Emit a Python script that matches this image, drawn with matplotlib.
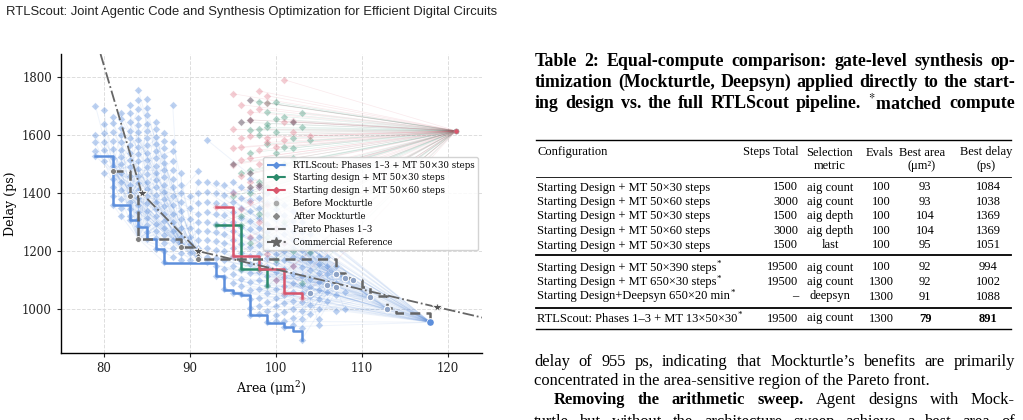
import matplotlib
matplotlib.use("Agg")
import matplotlib.pyplot as plt
from matplotlib.lines import Line2D
from matplotlib.collections import LineCollection

W, H = 1023, 420

# ---------------- chart data ----------------
# after-Mockturtle designs of the RTLScout run: area -> delays
blue_cols = {
    79: [1702, 1600, 1575, 1545, 1529],
    80: [1688, 1640, 1606, 1578, 1550, 1510, 1470],
    81: [1664, 1641, 1610, 1580, 1552, 1522, 1495, 1450, 1420, 1390, 1361],
    82: [1678, 1655, 1625, 1600, 1575, 1550, 1525, 1500, 1470, 1440, 1410, 1380, 1350, 1320],
    83: [1704, 1675, 1645, 1615, 1590, 1565, 1540, 1515, 1490, 1460, 1430, 1400, 1370, 1345, 1320, 1308],
    84: [1756, 1722, 1690, 1660, 1635, 1610, 1585, 1560, 1535, 1510, 1485, 1460, 1435, 1410, 1385, 1360,
         1335, 1310, 1287],
    85: [1724, 1695, 1668, 1640, 1615, 1590, 1565, 1540, 1515, 1490, 1465, 1440, 1415, 1390, 1365, 1340,
         1315, 1290, 1265, 1242],
    86: [1647, 1620, 1595, 1570, 1545, 1520, 1495, 1470, 1445, 1420, 1395, 1370, 1345, 1320, 1295, 1270,
         1245, 1208],
    87: [1607, 1580, 1555, 1530, 1505, 1480, 1455, 1430, 1405, 1380, 1355, 1330, 1305, 1280, 1255, 1230,
         1200, 1162],
    88: [1704, 1578, 1545, 1512, 1480, 1450, 1420, 1390, 1360, 1330, 1300, 1270, 1240, 1210, 1180],
    89: [1470, 1430, 1400, 1370, 1340, 1310, 1280, 1250, 1225, 1195, 1170],
    90: [1390, 1350, 1310, 1280, 1250, 1225, 1195, 1170],
    91: [1475, 1440, 1400, 1365, 1330, 1300, 1270, 1240, 1210, 1180],
    92: [1584, 1440, 1405, 1370, 1335, 1300, 1270, 1240, 1210, 1180, 1162],
    93: [1434, 1400, 1365, 1330, 1295, 1265, 1235, 1205, 1175, 1150, 1116],
    94: [1430, 1395, 1360, 1325, 1290, 1260, 1230, 1200, 1170, 1140, 1110, 1068],
    95: [1440, 1405, 1370, 1335, 1300, 1270, 1240, 1210, 1180, 1150, 1120, 1090, 1056],
    96: [1420, 1385, 1350, 1315, 1285, 1255, 1225, 1195, 1165, 1135, 1105, 1080, 1052],
    97: [1450, 1410, 1375, 1340, 1305, 1275, 1245, 1215, 1185, 1155, 1125, 1095, 1065, 1035, 1005, 981],
    98: [1420, 1385, 1350, 1315, 1280, 1250, 1220, 1190, 1160, 1130, 1100, 1070, 1040, 1010, 985],
    99: [1400, 1365, 1330, 1295, 1265, 1235, 1205, 1175, 1145, 1115, 1085, 1055, 1025, 995, 955],
    100: [1380, 1345, 1310, 1280, 1250, 1220, 1190, 1160, 1130, 1100, 1070, 1040, 1010, 980, 958],
    101: [1360, 1325, 1290, 1260, 1230, 1200, 1170, 1140, 1110, 1080, 1050, 1020, 990, 960, 939],
    102: [1340, 1305, 1270, 1240, 1210, 1180, 1150, 1120, 1090, 1060, 1030, 1000, 970, 945],
    103: [1300, 1265, 1235, 1205, 1175, 1145, 1115, 1085, 1055, 1025, 995, 965, 935, 895],
    104: [1260, 1225, 1195, 1165, 1135, 1105, 1075, 1045, 1015, 985],
    105: [1220, 1185, 1155, 1125, 1095, 1065, 1035, 1000, 965, 947],
    106: [1180, 1150, 1120, 1090, 1060, 1030],
    107: [1150, 1120, 1090, 1050, 995],
    108: [1060, 1000],
}

# before-Mockturtle designs (Phases 1-3 candidates)
before_left_x = [81, 83, 84, 89, 91]
before_left_y = [1475, 1389, 1243, 1214, 1174]
before_right_x = [118, 113, 111, 118, 109, 107, 108, 104, 106, 107, 118]
before_right_y = [955, 1000, 1043, 955, 1100, 1120, 1107, 1056, 1084, 1078, 955]

# starting design and its Mockturtle results
start_x, start_y = 121, 1615
green_x = [98, 99, 100, 99, 100, 101, 103, 97, 98, 99, 100, 102, 103, 104, 99, 101, 102, 97, 98, 96,
           97, 99, 95, 100, 98, 96, 101, 99, 97, 102, 100, 98, 99, 103, 96, 93, 96, 104, 98, 100,
           102, 97, 101, 99]
green_y = [1716, 1712, 1713, 1679, 1656, 1664, 1677, 1618, 1622, 1627, 1610, 1590, 1628, 1582, 1570, 1559,
           1556, 1480, 1440, 1470, 1400, 1420, 1390, 1360, 1330, 1320, 1300, 1250, 1230, 1200, 1170, 1140,
           1080, 1090, 1290, 1291, 1138, 1196, 1600, 1540, 1520, 1540, 1500, 1640]
pink_x = [95, 98, 99, 101, 96, 97, 99, 101, 102, 96, 97, 99, 101, 104, 95, 98, 99, 96, 97, 95, 98, 96,
          97, 98, 95, 97, 99, 96, 98, 100, 97, 101, 95, 98, 101, 103, 93, 100, 102, 99, 95, 96, 98,
          100, 102, 97]
pink_y = [1743, 1753, 1736, 1791, 1705, 1653, 1710, 1647, 1650, 1590, 1598, 1592, 1585, 1598, 1555, 1549,
          1575, 1515, 1520, 1498, 1500, 1460, 1440, 1420, 1400, 1370, 1360, 1345, 1300, 1280, 1250, 1230,
          1184, 1138, 1055, 1038, 1352, 1100, 1150, 1190, 1620, 1560, 1690, 1560, 1610, 1680]
gray_after_x = [97, 96, 97, 102, 95, 97, 98, 97]
gray_after_y = [1720, 1645, 1653, 1647, 1502, 1470, 1430, 1420]

# Pareto fronts
rtl_step_x = [79, 81, 83, 84, 85, 86, 87, 93, 94, 95, 96, 97, 99, 101, 102, 103]
rtl_step_y = [1529, 1361, 1308, 1285, 1241, 1207, 1161, 1115, 1067, 1055, 1050, 980, 954, 938, 926, 894]
mt30_step_x = [93, 96, 99]
mt30_step_y = [1291, 1138, 1080]
mt60_step_x = [93, 95, 98, 101, 103]
mt60_step_y = [1352, 1184, 1138, 1055, 1038]
p13_x = [81, 83, 84, 89, 91, 107, 108, 109, 110, 111, 113, 114, 118]
p13_y = [1475, 1389, 1243, 1214, 1174, 1124, 1109, 1101, 1078, 1044, 1003, 986, 969]

# commercial reference
comm_x = [79.6, 84.4, 91, 118.8, 124.5]
comm_y = [1880, 1400, 1200, 1007, 968]
star_x = [84.4, 91, 118.8]
star_y = [1400, 1200, 1007]

# ---------------- table data ----------------
configs = ["Starting Design + MT 50×30 steps", "Starting Design + MT 50×60 steps",
           "Starting Design + MT 50×30 steps", "Starting Design + MT 50×60 steps",
           "Starting Design + MT 50×30 steps", "Starting Design + MT 50×390 steps",
           "Starting Design + MT 650×30 steps", "Starting Design+Deepsyn 650×20 min",
           "RTLScout: Phases 1–3 + MT 13×50×30"]
matched = [False, False, False, False, False, True, True, True, True]
steps = ["1500", "3000", "1500", "3000", "1500", "19500", "19500", "–", "19500"]
metrics = ["aig count", "aig count", "aig depth", "aig depth", "last", "aig count", "aig count",
           "deepsyn", "aig count"]
evals = ["100", "100", "100", "100", "100", "100", "1300", "1300", "1300"]
areas = ["93", "93", "104", "104", "95", "92", "92", "91", "79"]
delays = ["1084", "1038", "1369", "1369", "1051", "994", "1002", "1088", "891"]

BLUE = "#5d8fdc"
GREEN = "#2b8a6b"
RED = "#d9566c"
GRAY = "#666666"

plt.rcParams["font.family"] = "DejaVu Serif"
plt.rcParams["mathtext.fontset"] = "dejavuserif"

fig = plt.figure(figsize=(W / 100, H / 100), dpi=100)
ax = fig.add_axes([61 / W, 1 - 353 / H, 421 / W, 299 / H])

blue_x, blue_y = [], []
for a, ds in blue_cols.items():
    for d in ds:
        blue_x.append(a)
        blue_y.append(d)

# faint lines from each before design to its Mockturtle results
segs = []
li = ri = 0
for x, y in zip(blue_x, blue_y):
    if x < 92:
        k = li % len(before_left_x)
        segs.append([(before_left_x[k], before_left_y[k]), (x, y)])
        li += 1
    else:
        k = ri % len(before_right_x)
        segs.append([(before_right_x[k], before_right_y[k]), (x, y)])
        ri += 1
ax.add_collection(LineCollection(segs, colors=BLUE, alpha=0.1, lw=0.7, zorder=1))

for xs, ys, c in [(green_x, green_y, GREEN), (pink_x, pink_y, RED), (gray_after_x, gray_after_y, GRAY)]:
    ax.add_collection(LineCollection([[(start_x, start_y), (x, y)] for x, y in zip(xs, ys)],
                                     colors=c, alpha=0.13, lw=0.5, zorder=1))

ax.scatter(blue_x, blue_y, marker="D", s=15, color=BLUE, alpha=0.42, edgecolors="white",
           linewidths=0.4, zorder=2)
ax.scatter(green_x, green_y, marker="D", s=15, color=GREEN, alpha=0.35, edgecolors="white",
           linewidths=0.4, zorder=2)
ax.scatter(pink_x, pink_y, marker="D", s=15, color=RED, alpha=0.3, edgecolors="white",
           linewidths=0.4, zorder=2)
ax.scatter(gray_after_x, gray_after_y, marker="D", s=15, color="#6a5a6a", alpha=0.55,
           edgecolors="white", linewidths=0.4, zorder=2)

# step fronts
ax.step(rtl_step_x, rtl_step_y, where="post", color=BLUE, lw=1.8, zorder=4)
ax.step(mt30_step_x, mt30_step_y, where="post", color=GREEN, lw=1.8, zorder=4)
ax.step(mt60_step_x, mt60_step_y, where="post", color=RED, lw=1.8, zorder=4)
ax.step(p13_x, p13_y, where="post", color=GRAY, lw=1.8, ls=(0, (4, 2.5)), zorder=5)

ax.plot(comm_x, comm_y, color=GRAY, lw=1.3, ls="-.", zorder=5)
ax.plot(star_x, star_y, "*", color="#555555", ms=7, mec="white", mew=0.6, zorder=6)

# before points
ax.scatter(before_left_x, before_left_y, s=18, color="#7f7f7f", edgecolors="white",
           linewidths=0.6, zorder=6)
ax.scatter(before_right_x, before_right_y, s=22, color="#8ea3c6", edgecolors="white",
           linewidths=0.8, zorder=6)
ax.scatter([118], [955], s=14, color=BLUE, zorder=7)
ax.scatter([start_x], [start_y], s=14, color=RED, edgecolors="#999999", linewidths=0.4, zorder=7)

ax.set_xlim(75, 124)
ax.set_ylim(849, 1880)
ax.set_xticks([80, 90, 100, 110, 120])
ax.set_yticks([1000, 1200, 1400, 1600, 1800])
ax.tick_params(labelsize=8.5, length=3, width=0.8, colors="#222222")
ax.grid(True, ls="--", color="#dddddd", lw=0.7, zorder=0)
ax.set_axisbelow(True)
for s in ["top", "right"]:
    ax.spines[s].set_visible(False)
for s in ["left", "bottom"]:
    ax.spines[s].set_linewidth(1.0)
ax.set_xlabel("Area (μm$^2$)", fontsize=9, labelpad=3)
ax.set_ylabel("Delay (ps)", fontsize=9, labelpad=4)

handles = [
    Line2D([], [], color=BLUE, ls="--", marker="D", ms=3),
    Line2D([], [], color=GREEN, ls="--", marker="D", ms=3),
    Line2D([], [], color=RED, ls="--", marker="D", ms=3),
    Line2D([], [], color="#aaaaaa", ls="none", marker="o", ms=3),
    Line2D([], [], color="#888888", ls="none", marker="D", ms=3),
    Line2D([], [], color=GRAY, ls="--"),
    Line2D([], [], color=GRAY, ls="-.", marker="*", ms=7),
]
labels = ["RTLScout: Phases 1–3 + MT 50×30 steps", "Starting design + MT 50×30 steps",
          "Starting design + MT 50×60 steps", "Before Mockturtle", "After Mockturtle",
          "Pareto Phases 1–3", "Commercial Reference"]
leg = ax.legend(handles, labels, loc="upper right", bbox_to_anchor=(0.99, 0.655), fontsize=6.2,
                framealpha=0.85, edgecolor="#cccccc", borderaxespad=0, handlelength=2.2,
                labelspacing=0.45, borderpad=0.4)
leg.set_zorder(10)

# ---------------- page text ----------------
r = fig.canvas.get_renderer()
SERIF = ["Liberation Serif", "DejaVu Serif"]


def txt(x, y, s, **kw):
    kw.setdefault("va", "center")
    return fig.text(x / W, 1 - y / H, s, **kw)


def width(t):
    return t.get_window_extent(r).width


def fit_size(s, target, **kw):
    # font size at which the string s is about target pixels wide
    t = txt(0, 0, s, fontsize=10, **kw)
    w = width(t)
    t.remove()
    return 10 * target / w


def justify(x0, x1, y, words, weights=None, **kw):
    # place words one by one so that the line fills x0..x1
    weights = weights or ["normal"] * len(words)
    ts = [txt(x0, y, w, weight=wt, **kw) for w, wt in zip(words, weights)]
    ws = [width(t) for t in ts]
    gap = (x1 - x0 - sum(ws)) / (len(words) - 1)
    x = x0
    for t, w in zip(ts, ws):
        t.set_x(x / W)
        x += w + gap


def rule(y, lw):
    fig.add_artist(Line2D([536 / W, 1011 / W], [1 - y / H] * 2, color="black", lw=lw))


txt(6, 12, "RTLScout: Joint Agentic Code and Synthesis Optimization for Efficient Digital Circuits",
    family=["Liberation Sans", "DejaVu Sans"], fontsize=9.4, color="#222222")

cap = ["Table 2: Equal-compute comparison: gate-level synthesis op-",
       "timization (Mockturtle, Deepsyn) applied directly to the start-",
       "ing design vs. the full RTLScout pipeline. $^{*}$matched compute"]
cfs = min(fit_size(line, 474, family=SERIF, weight="bold", math_fontfamily="stix") for line in cap)
for i, line in enumerate(cap):
    words = line.split(" ")
    justify(535, 1015, 61 + 21.3 * i, words, weights=["bold"] * len(words),
            family=SERIF, fontsize=cfs, math_fontfamily="stix")

fs = 9
rule(140.5, 1.0)
txt(537, 152.5, "Configuration", family=SERIF, fontsize=fs)
txt(799, 152.5, "Steps Total", family=SERIF, fontsize=fs, ha="right")
txt(829.5, 152.5, "Selection", family=SERIF, fontsize=fs, ha="center")
txt(829.5, 166.5, "metric", family=SERIF, fontsize=fs, ha="center")
txt(880, 152.5, "Evals", family=SERIF, fontsize=fs, ha="center")
txt(922, 152.5, "Best area", family=SERIF, fontsize=fs, ha="center")
txt(922, 166.5, "(μm²)", family=SERIF, fontsize=fs, ha="center")
txt(986, 152.5, "Best delay", family=SERIF, fontsize=fs, ha="center")
txt(986, 166.5, "(ps)", family=SERIF, fontsize=fs, ha="center")
rule(177, 0.6)
row_y = [187.5, 202, 216.5, 231, 245.5, 267.5, 282, 296.5, 318.5]
for i, y in enumerate(row_y):
    bold = "bold" if i == 8 else "normal"
    c = txt(537, y, configs[i], family=SERIF, fontsize=fs)
    if matched[i]:
        txt(537 + width(c) + 0.5, y - 3.5, "*", family=SERIF, fontsize=6.5)
    txt(798, y, steps[i], family=SERIF, fontsize=fs, ha="right")
    txt(830, y, metrics[i], family=SERIF, fontsize=fs, ha="center")
    txt(881, y, evals[i], family=SERIF, fontsize=fs, ha="center")
    txt(925, y, areas[i], family=SERIF, fontsize=fs, ha="center", weight=bold)
    txt(988, y, delays[i], family=SERIF, fontsize=fs, ha="center", weight=bold)
rule(255.5, 1.3)
rule(307.5, 1.3)
rule(328.5, 1.0)

body1 = "delay of 955 ps, indicating that Mockturtle’s benefits are primarily"
body2 = "concentrated in the area-sensitive region of the Pareto front."
body3 = "Removing the arithmetic sweep. Agent designs with Mock-"
body4 = "turtle but without the architecture sweep achieve a best area of"
bfs = min(fit_size(body1, 470, family=SERIF), fit_size(body2, 396, family=SERIF))
justify(534, 1015, 362, body1.split(" "), family=SERIF, fontsize=bfs)
txt(534, 381, body2, family=SERIF, fontsize=bfs)
justify(554, 1015, 400, body3.split(" "), weights=["bold"] * 4 + ["normal"] * 4, family=SERIF,
        fontsize=bfs)
justify(534, 1015, 422, body4.split(" "), family=SERIF, fontsize=bfs)

fig.savefig("out.png", dpi=100)
